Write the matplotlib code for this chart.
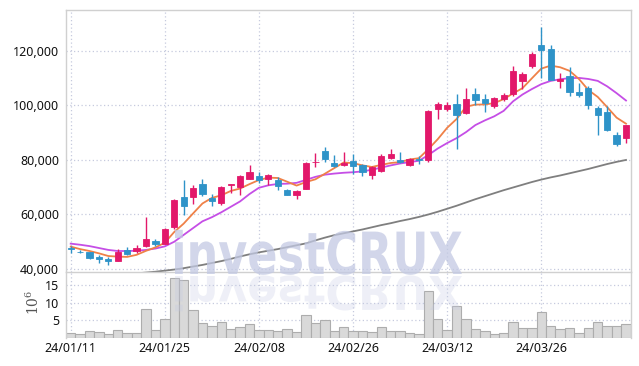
import numpy as np
import pandas as pd
import matplotlib
matplotlib.use('Agg')
import matplotlib.pyplot as plt
from matplotlib.textpath import TextPath
from matplotlib.patches import PathPatch
from matplotlib.font_manager import FontProperties
from matplotlib.transforms import Affine2D
from matplotlib.ticker import FuncFormatter

plt.rcParams['font.family'] = ['Noto Sans', 'DejaVu Sans']

# trading days (KRX), 24/01/11 .. 24/04/08
dates = ['24/01/11', '24/01/12', '24/01/15', '24/01/16', '24/01/17', '24/01/18', '24/01/19',
         '24/01/22', '24/01/23', '24/01/24', '24/01/25', '24/01/26', '24/01/29', '24/01/30',
         '24/01/31', '24/02/01', '24/02/02', '24/02/05', '24/02/06', '24/02/07', '24/02/08',
         '24/02/13', '24/02/14', '24/02/15', '24/02/16', '24/02/19', '24/02/20', '24/02/21',
         '24/02/22', '24/02/23', '24/02/26', '24/02/27', '24/02/28', '24/02/29', '24/03/04',
         '24/03/05', '24/03/06', '24/03/07', '24/03/08', '24/03/11', '24/03/12', '24/03/13',
         '24/03/14', '24/03/15', '24/03/18', '24/03/19', '24/03/20', '24/03/21', '24/03/22',
         '24/03/25', '24/03/26', '24/03/27', '24/03/28', '24/03/29', '24/04/01', '24/04/02',
         '24/04/03', '24/04/04', '24/04/05', '24/04/08']

opens = [47500, 46400, 46300, 44300, 43800, 43100, 47000, 46500, 48400, 50400,
         49200, 55300, 66300, 66300, 71200, 66100, 64100, 70800, 70000, 73100,
         74100, 73100, 72700, 69000, 67300, 69500, 79100, 83400, 78800, 78100,
         79500, 78300, 74400, 76100, 80700, 80000, 78300, 80300, 79800, 98600,
         98800, 100500, 97400, 104200, 102400, 99900, 102400, 104200, 108800, 114600,
         122000, 120700, 108800, 110800, 105100, 106500, 99200, 97700, 89200, 88000]
highs = [48300, 46800, 46400, 45000, 44300, 47200, 48000, 48700, 59000, 51100,
         55000, 65600, 72700, 70700, 73000, 67400, 70300, 71200, 74500, 78300,
         75600, 74700, 73900, 69500, 68800, 79200, 82700, 84900, 81700, 83000,
         82200, 78600, 77700, 82000, 84100, 83000, 80800, 81500, 98500, 101300,
         101300, 104200, 106300, 106300, 104200, 103000, 104600, 114500, 112400, 119700,
         128900, 122200, 112000, 114000, 108100, 107200, 99800, 99700, 90400, 93000]
lows = [45900, 45700, 43700, 42100, 41600, 42900, 45000, 46000, 48200, 48300,
        49000, 54800, 59800, 63900, 66600, 63100, 63600, 67900, 67200, 73000,
        71500, 70700, 69000, 67000, 65800, 69300, 77400, 79300, 77300, 77800,
        75000, 74100, 73100, 75500, 80400, 79000, 77700, 78600, 79300, 94900,
        97800, 84100, 97000, 100200, 97700, 99000, 101500, 103300, 106000, 113700,
        110000, 109300, 106300, 103500, 103000, 98600, 89200, 90800, 85100, 86100]
closes = [47300, 46100, 43900, 43600, 42900, 46200, 45600, 47700, 50900, 49200,
          54800, 65300, 63000, 69600, 67500, 65000, 70000, 71000, 74100, 75600,
          72500, 74400, 70300, 67300, 68500, 79000, 79400, 80500, 77600, 78800,
          77800, 75400, 77500, 81500, 82200, 79400, 80300, 79800, 98100, 100500,
          100300, 96400, 102300, 102000, 100800, 102600, 103900, 112700, 111600, 118900,
          120400, 109400, 109700, 105100, 103900, 100200, 96600, 91000, 85900, 92800]
# volume, millions of shares
volume = [1.5, 1.1, 2.0, 1.7, 1.1, 2.3, 1.4, 1.4, 8.1, 2.3,
          5.4, 16.9, 16.3, 7.9, 4.2, 3.4, 4.5, 2.5, 3.1, 4.0,
          2.3, 2.3, 2.0, 2.5, 1.7, 6.5, 4.2, 5.1, 2.0, 3.0,
          2.0, 2.0, 1.7, 3.0, 2.0, 2.0, 1.4, 1.1, 13.3, 5.4,
          2.3, 9.0, 5.4, 2.5, 2.0, 1.1, 1.4, 4.5, 2.8, 2.8,
          7.3, 3.4, 2.5, 2.8, 1.4, 2.8, 4.5, 3.4, 3.4, 4.0]

# first four 5-day averages (need earlier closes)
ma5_head = [48200, 47300, 46600, 45750]
# 20-day and 60-day averages as drawn
ma20 = [49300, 48900, 48400, 47700, 47000, 46600, 46600, 46700, 47000, 47500,
        48300, 50000, 52500, 55000, 57500, 59000, 60800, 62800, 64800, 67500,
        69800, 70700, 71200, 71300, 71600, 72700, 73800, 74600, 75000, 75300,
        75500, 75800, 76400, 77200, 78000, 78700, 79200, 79700, 81800, 84200,
        86200, 88000, 90200, 92800, 94500, 96000, 98000, 101500, 104000, 106000,
        107800, 109000, 109600, 110000, 110100, 109700, 109000, 107000, 104500, 101800]
ma60 = [36300, 36600, 36900, 37200, 37500, 37800, 38100, 38400, 38700, 39000,
        39400, 39800, 40300, 40900, 41500, 42200, 42900, 43700, 44600, 45400,
        46100, 46700, 47300, 48000, 48700, 49400, 50500, 51500, 52400, 53100,
        53800, 54500, 55300, 56100, 56800, 57600, 58300, 59100, 60000, 61000,
        62100, 63200, 64400, 65600, 66700, 67800, 68900, 69900, 70900, 71900,
        72800, 73600, 74300, 75100, 75900, 76700, 77600, 78500, 79300, 80000]

up_color = '#e2186a'
down_color = '#2e93c8'
grid_color = '#c6cade'
frame_color = '#d0d0d0'
label_size = 9.0

x = np.arange(len(dates))
o = np.array(opens)
c = np.array(closes)
ma5 = pd.Series(closes).rolling(5).mean().values
ma5[:4] = ma5_head

fig = plt.figure(figsize=(6.39, 3.66), dpi=100)
W, H = 639, 366
ax = fig.add_axes([66 / W, (H - 272) / H, 564.7 / W, 262 / H])
axv = fig.add_axes([66 / W, (H - 338) / H, 564.7 / W, 66 / H], sharex=ax)
for a in (ax, axv):
    a.set_facecolor('none')
    for s in a.spines.values():
        s.set_color(frame_color)
        s.set_linewidth(1)
axv.spines['bottom'].set_visible(False)
axv.spines['top'].set_visible(False)

# candles
colors = [up_color if cc >= oo else down_color for oo, cc in zip(o, c)]
ax.vlines(x, lows, highs, colors=colors, linewidth=1.0, zorder=3)
body = np.maximum(np.abs(c - o), 250)
ax.bar(x, body, bottom=np.minimum(o, c), width=0.66, color=colors,
       edgecolor=colors, linewidth=0.6, zorder=4)

# moving averages
ax.plot(x, ma60, color='#7f7f7f', lw=1.3, zorder=2)
ax.plot(x, ma20, color='#c54ee6', lw=1.3, zorder=2)
ax.plot(x, ma5, color='#ef8148', lw=1.3, zorder=2)

ax.set_xlim(-0.5, len(dates) - 0.5)
ax.set_ylim(38900, 135000)
ax.set_yticks([40000, 60000, 80000, 100000, 120000])
ax.yaxis.set_major_formatter(FuncFormatter(lambda v, p: f'{int(v):,}'))
ax.grid(True, color=grid_color, linestyle=(0, (1, 2)), linewidth=0.9)
ax.tick_params(axis='both', length=0, pad=5, labelsize=label_size, labelcolor='#111111')
ax.tick_params(axis='x', labelbottom=False)

# volume
axv.bar(x, volume, width=1.0, color='#d9d9d9', edgecolor='#adadad', linewidth=0.8, zorder=2)
axv.set_ylim(0, 18.6)
axv.set_yticks([5, 10, 15])
tick_idx = list(range(0, len(dates), 10))
axv.set_xticks(tick_idx)
axv.set_xticklabels([dates[i] for i in tick_idx])
axv.grid(True, color=grid_color, linestyle=(0, (1, 2)), linewidth=0.9)
axv.tick_params(axis='both', length=0, pad=5, labelsize=label_size, labelcolor='#111111')
axv.tick_params(axis='x', pad=3)
fig.text(33 / W, (H - 302) / H, r'$10^6$', rotation=90, ha='center', va='center',
         fontsize=10, fontweight='normal', color='#555555', family='DejaVu Serif',
         math_fontfamily='dejavuserif')

# watermark with reflection
fp = FontProperties(family='DejaVu Sans', weight='bold')
tp = TextPath((0, 0), 'investCRUX', size=100, prop=fp)
bb = tp.get_extents()
cap = TextPath((0, 0), 'C', size=100, prop=fp).get_extents().height
sx = 287 / bb.width
sy = 44 / cap
base = H - 274
tr = Affine2D().translate(-bb.x0, 0).scale(sx, sy).translate(175, base)
fig.add_artist(PathPatch(tp, transform=tr, facecolor='#c3c9e3', edgecolor='none',
                         alpha=0.75, zorder=5))
tr2 = Affine2D().translate(-bb.x0, 0).scale(sx, -sy * 0.8).translate(175, base - 2)
fig.add_artist(PathPatch(tp, transform=tr2, facecolor='#c3c9e3', edgecolor='none',
                         alpha=0.28, zorder=5))

fig.savefig('out.png', dpi=100)
